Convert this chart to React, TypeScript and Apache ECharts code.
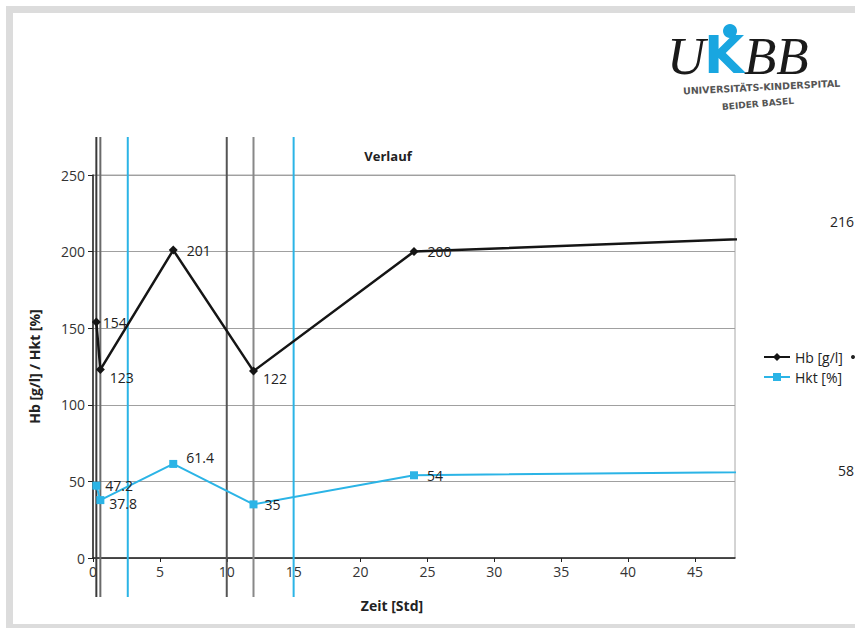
import React, { useEffect, useRef } from "react";
import * as echarts from "echarts";

const hours = [0.25, 0.55, 6, 12, 24, 72];
const hbValues = [154, 123, 201, 122, 200, 216];
const hktValues = [47.2, 37.8, 61.4, 35, 54, 58];
const blackEvents = [0.25, 0.55, 10, 12];
const blueEvents = [2.6, 15];
const xTicks = [0, 5, 10, 15, 20, 25, 30, 35, 40, 45];
const yTicks = [0, 50, 100, 150, 200, 250];

const FONT = "'Open Sans', 'Noto Sans', sans-serif";
const BLUE = "#2bb4e6";

const hbLabelOffsets: number[][] = [[-3, 0], [0, 8], [4, 0], [0, 7], [4, 0]];
const hktLabelOffsets: number[][] = [[0, 0], [0, 3], [4, -6], [2, 0], [4, 0]];

export default function App() {
  const ref = useRef<HTMLDivElement>(null);
  useEffect(() => {
    if (!ref.current) return;
    const chart = echarts.init(ref.current, null, { renderer: "svg" });
    const lineColors = ["#3a3a3a", "#6a6a6a", "#555", "#888"];
    const vline = (colorFor: (i: number) => string) => (params: any, api: any) => {
      const x = api.coord([api.value(0), 0])[0];
      const cs = params.coordSys;
      return {
        type: "line",
        shape: { x1: x, y1: cs.y - 38, x2: x, y2: cs.y + cs.height + 39 },
        style: { stroke: colorFor(params.dataIndex), lineWidth: 2 },
      };
    };
    const mkData = (vals: number[], offs: number[][]) =>
      hours.map((h, i) => ({
        value: [h, vals[i]],
        label: offs[i]
          ? { show: true, position: "right", distance: 5, offset: offs[i] }
          : { show: false },
      }));
    const logoText = (text: string, x: number, font: string, fill: string) => ({
      type: "text",
      x,
      y: 29,
      style: { text, font, fill, align: "left", verticalAlign: "top" },
    });
    chart.setOption({
      animation: false,
      backgroundColor: "#fff",
      textStyle: { fontFamily: FONT },
      grid: {
        left: 93,
        right: 120,
        top: 175,
        bottom: 70,
        containLabel: false,
        outerBoundsMode: "none",
        show: true,
        borderColor: "#a8a8a8",
        borderWidth: 1,
      },
      legend: {
        data: ["Hb [g/l]", "Hkt [%]"],
        orient: "vertical",
        left: 758,
        top: 345,
        itemWidth: 26,
        itemHeight: 10,
        itemGap: 6,
        textStyle: { fontSize: 14, color: "#222", fontFamily: FONT },
      },
      xAxis: {
        type: "value",
        min: 0,
        max: 48,
        interval: 5,
        axisLine: { show: true, onZero: false, lineStyle: { color: "#222", width: 1.5 } },
        axisTick: { show: true, length: 4, lineStyle: { color: "#222" } },
        axisLabel: {
          fontSize: 14,
          color: "#333",
          margin: 6,
          showMaxLabel: false,
          formatter: (v: number) => (xTicks.includes(v) ? String(v) : ""),
        },
        splitLine: { show: false },
      },
      yAxis: {
        type: "value",
        min: 0,
        max: 250,
        interval: 50,
        axisLine: { show: true, lineStyle: { color: "#222", width: 1.5 } },
        axisTick: { show: true, length: 5, lineStyle: { color: "#222" } },
        axisLabel: {
          fontSize: 14,
          color: "#333",
          margin: 8,
          formatter: (v: number) => (yTicks.includes(v) ? String(v) : ""),
        },
        splitLine: { show: true, lineStyle: { color: "#a0a0a0", width: 1 } },
        name: "Hb [g/l] / Hkt [%]",
        nameLocation: "middle",
        nameGap: 52,
        nameTextStyle: { fontSize: 14, fontWeight: "bold", color: "#222", fontFamily: FONT },
      },
      series: [
        {
          type: "custom",
          name: "events-black",
          data: blackEvents.map((v) => [v, 0]),
          encode: { x: 0, y: 1 },
          renderItem: vline((i) => lineColors[i]),
          silent: true,
          z: 1,
        },
        {
          type: "custom",
          name: "events-blue",
          data: blueEvents.map((v) => [v, 0]),
          encode: { x: 0, y: 1 },
          renderItem: vline(() => BLUE),
          silent: true,
          z: 1,
        },
        {
          type: "line",
          name: "Hb [g/l]",
          data: mkData(hbValues, hbLabelOffsets),
          symbol: "diamond",
          symbolSize: 9,
          showAllSymbol: true,
          lineStyle: { color: "#151515", width: 2.5 },
          itemStyle: { color: "#151515" },
          label: { fontSize: 14, color: "#222", fontFamily: FONT },
          z: 3,
        },
        {
          type: "line",
          name: "Hkt [%]",
          data: mkData(hktValues, hktLabelOffsets),
          symbol: "rect",
          symbolSize: 8,
          showAllSymbol: true,
          lineStyle: { color: BLUE, width: 2 },
          itemStyle: { color: BLUE },
          label: { fontSize: 14, color: "#222", fontFamily: FONT },
          z: 3,
        },
      ],
      graphic: [
        {
          type: "rect",
          shape: { x: 9.5, y: 9.5, width: 900, height: 618 },
          style: { fill: "none", stroke: "#dcdcdc", lineWidth: 7 },
          silent: true,
        },
        {
          type: "text",
          x: 388,
          y: 156,
          style: {
            text: "Verlauf",
            font: `bold 13px ${FONT}`,
            fill: "#222",
            align: "center",
            verticalAlign: "middle",
          },
        },
        {
          type: "text",
          x: 392,
          y: 605,
          style: {
            text: "Zeit [Std]",
            font: `bold 14px ${FONT}`,
            fill: "#222",
            align: "center",
            verticalAlign: "middle",
          },
        },
        {
          type: "text",
          x: 830,
          y: 221,
          style: {
            text: String(hbValues[hbValues.length - 1]),
            font: `14px ${FONT}`,
            fill: "#222",
            align: "left",
            verticalAlign: "middle",
          },
        },
        {
          type: "text",
          x: 838,
          y: 470,
          style: {
            text: String(hktValues[hktValues.length - 1]),
            font: `14px ${FONT}`,
            fill: "#222",
            align: "left",
            verticalAlign: "middle",
          },
        },
        {
          type: "circle",
          shape: { cx: 853, cy: 357, r: 2 },
          style: { fill: "#222" },
        },
        // Logo
        logoText("U", 667, "italic 53px 'Liberation Serif', serif", "#1a1a1a"),
        logoText("K", 704, "bold 52px 'DejaVu Sans', sans-serif", "#19a6e0"),
        {
          type: "circle",
          shape: { cx: 730, cy: 31, r: 7 },
          style: { fill: "#19a6e0" },
        },
        logoText("BB", 744, "italic 53px 'Liberation Serif', serif", "#1a1a1a"),
        {
          type: "text",
          x: 683,
          y: 91,
          rotation: 0.05,
          style: {
            text: "UNIVERSITÄTS-KINDERSPITAL",
            font: "bold 9.5px 'DejaVu Sans', sans-serif",
            fill: "#555",
            align: "left",
            verticalAlign: "middle",
          },
        },
        {
          type: "text",
          x: 722,
          y: 107,
          rotation: 0.085,
          style: {
            text: "BEIDER BASEL",
            font: "bold 9px 'DejaVu Sans', sans-serif",
            fill: "#555",
            align: "left",
            verticalAlign: "middle",
          },
        },
      ],
    });
    return () => chart.dispose();
  }, []);
  return (
    <div
      ref={ref}
      style={{ position: "fixed", left: 0, top: 0, width: 855, height: 628 }}
    />
  );
}
